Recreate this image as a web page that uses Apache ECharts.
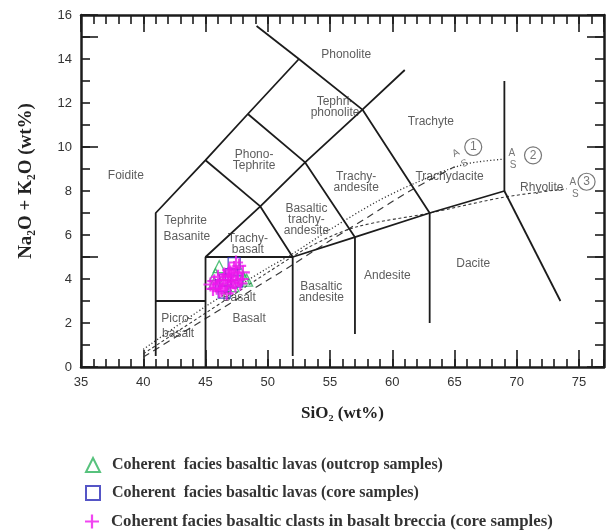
<!DOCTYPE html>
<html>
<head>
<meta charset="utf-8">
<script src="https://cdn.jsdelivr.net/npm/echarts@6/dist/echarts.min.js"></script>
<style>
  html, body { margin: 0; padding: 0; background: #fff; }
  #chart { width: 610px; height: 531px; }
</style>
</head>
<body>
<div id="chart"></div>
<script>
// ---- TAS classification field boundaries (SiO2, Na2O+K2O) ----
const fieldBoundaries = [
  [[41, 0.5], [41, 7], [45, 9.4], [48.4, 11.5], [52.5, 14], [57.6, 11.7], [61, 13.5]],
  [[49.1, 15.5], [52.5, 14]],
  [[41, 3], [45, 3]],
  [[45, 0], [45, 5], [52, 5], [52, 0.5]],
  [[45, 5], [49.4, 7.3], [52, 5]],
  [[45, 9.4], [49.4, 7.3]],
  [[48.4, 11.5], [53, 9.3], [57, 5.9], [57, 1.5]],
  [[49.4, 7.3], [53, 9.3], [57.6, 11.7]],
  [[52, 5], [57, 5.9], [63, 7], [69, 8], [69, 13]],
  [[57.6, 11.7], [63, 7], [63, 2]],
  [[69, 8], [73.5, 3]]
];

// ---- alkaline / subalkaline dividing lines ----
const divide1 = [[40, 0.45], [45, 2.2], [50, 3.95], [52, 4.65], [55, 5.75], [58, 6.8], [61.4, 8.0], [65, 9.1]];
const divide2 = [[40, 0.8], [45, 2.75], [50, 4.5], [52, 5.15], [55, 6.25], [58.7, 7.5], [61.8, 8.35], [65.7, 9.2], [69, 9.45]];
const divide3 = [[40, 0.6], [45, 2.45], [50, 4.3], [53.3, 5.45], [57, 6.35], [63, 7.0], [69, 7.72], [74, 8.1]];

// A / S markers and circled numbers at the end of each divide
const asLabels = [
  ['A', 65.1, 9.72, 28], ['S', 65.8, 9.25, 28],
  ['A', 69.6, 9.7, 0], ['S', 69.7, 9.15, 0],
  ['A', 74.5, 8.38, 0], ['S', 74.7, 7.85, 0]
];
const circleNums = [['1', 66.5, 10.0], ['2', 71.3, 9.62], ['3', 75.6, 8.42]];

// ---- rock field names ----
const fieldNames = [
  'Foidite', 'Phonolite', 'Tephri-\nphonolite', 'Phono-\nTephrite', 'Trachyte',
  'Trachy-\nandesite', 'Trachydacite', 'Basaltic\ntrachy-\nandesite', 'Tephrite', 'Basanite',
  'Trachy-\nbasalt', 'Picro-', 'basalt', 'Basalt', 'Basalt', 'Basaltic\nandesite',
  'Andesite', 'Dacite', 'Rhyolite'
];
const fieldNamePos = [
  [38.6, 8.68], [56.3, 14.18], [55.4, 11.8], [48.9, 9.4], [63.1, 11.15],
  [57.1, 8.39], [64.6, 8.65], [53.1, 6.7], [43.4, 6.65], [43.5, 5.92],
  [48.4, 5.56], [42.7, 2.21], [42.8, 1.5], [47.7, 3.17], [48.5, 2.21], [54.3, 3.41],
  [59.6, 4.15], [66.5, 4.68], [72.0, 8.17]
];

// ---- samples (SiO2, Na2O+K2O) ----
const outcropLavas = [
  [46.1, 4.56], [45.8, 4.2], [47.7, 4.4], [48.05, 4.05], [48.3, 3.95],
  [46.6, 4.0], [47.2, 3.7], [45.7, 3.8]
];
const coreLavas = [
  [47.3, 4.7], [46.6, 3.95], [46.5, 3.4], [47.1, 4.2], [46.3, 3.7], [47.5, 3.9]
];
const brecciaClasts = [
  [45.4, 3.75], [45.7, 3.9], [45.9, 3.6], [46.0, 4.1], [46.2, 3.8], [46.3, 3.5],
  [46.5, 4.2], [46.6, 3.7], [46.8, 3.95], [46.9, 4.4], [47.0, 3.6], [47.1, 4.1],
  [47.2, 3.85], [47.3, 4.5], [47.4, 3.7], [47.5, 4.25], [47.6, 3.95], [47.7, 4.6],
  [47.8, 3.8], [48.0, 4.3], [46.4, 3.95], [46.1, 3.45], [47.0, 4.3], [47.9, 4.0],
  [46.7, 3.35], [45.6, 3.55], [47.45, 4.75], [46.85, 4.15]
];

const seriesNames = [
  'Coherent  facies basaltic lavas (outcrop samples)',
  'Coherent  facies basaltic lavas (core samples)',
  'Coherent facies basaltic clasts in basalt breccia (core samples)'
];

const ink = '#1c1c1c';
const frameLine = { color: ink, width: 2.5 };
const tickLine = { color: ink, width: 1.6 };
const plusPath = 'path://M4.2,0H5.8V4.2H10V5.8H5.8V10H4.2V5.8H0V4.2H4.2Z';

function xAx(pos, step, tickLen, withLabels) {
  return {
    type: 'value', position: pos, min: 35, max: 77, interval: step,
    axisLine: { show: step === 5, onZero: false, lineStyle: frameLine },
    axisTick: { show: true, inside: true, length: tickLen, lineStyle: tickLine },
    axisLabel: withLabels ? {
      show: true, margin: 9, fontSize: 13, color: '#333', fontFamily: 'Liberation Sans',
      formatter: v => (v % 5 === 0 ? String(v) : '')
    } : { show: false },
    splitLine: { show: false }
  };
}
function yAx(pos, step, tickLen, opts) {
  return Object.assign({
    type: 'value', position: pos, min: 0, max: 16, interval: step,
    axisLine: { show: false, onZero: false },
    axisTick: { show: tickLen > 0, inside: true, length: tickLen, lineStyle: tickLine },
    axisLabel: { show: false },
    splitLine: { show: false }
  }, opts || {});
}

const titleFont = { fontFamily: 'Liberation Serif', fontWeight: 'bold', color: '#222' };

const xAxes = [
  Object.assign(xAx('bottom', 5, 17, true), {
    name: 'SiO₂ (wt%)', nameLocation: 'middle', nameGap: 38,
    nameTextStyle: Object.assign({ fontSize: 17 }, titleFont)
  }),
  xAx('bottom', 1, 8, false),
  xAx('top', 5, 17, false),
  xAx('top', 1, 9, false)
];
const yAxes = [
  yAx('left', 2, 0, {
    axisLine: { show: true, onZero: false, lineStyle: frameLine },
    axisLabel: { show: true, margin: 9, fontSize: 13, color: '#333', fontFamily: 'Liberation Sans' },
    name: 'Na₂O + K₂O (wt%)', nameLocation: 'middle', nameGap: 45, nameRotate: 90,
    nameTextStyle: Object.assign({ fontSize: 19, padding: [0, 0, 0, 20] }, titleFont)
  }),
  yAx('left', 5, 17),
  yAx('left', 1, 9),
  yAx('right', 5, 17, { axisLine: { show: true, onZero: false, lineStyle: frameLine } }),
  yAx('right', 1, 9)
];

const series = [];
fieldBoundaries.forEach(seg => {
  series.push({
    type: 'line', data: seg, symbol: 'none', silent: true, z: 3,
    lineStyle: { color: ink, width: 1.8 }
  });
});
[[divide1, [7, 5], 1.2], [divide2, [1.2, 2.2], 1.3], [divide3, [3, 2.5], 1.1]].forEach(d => {
  series.push({
    type: 'line', data: d[0], symbol: 'none', silent: true, smooth: 0.3, z: 2,
    lineStyle: { color: '#3a3a3a', width: d[2], type: d[1] }
  });
});

// rock field names
series.push({
  type: 'scatter', silent: true, symbolSize: 0, z: 4,
  data: fieldNamePos.map((p, i) => ({ value: p, name: fieldNames[i] })),
  label: {
    show: true, position: 'inside', formatter: p => p.name,
    fontFamily: 'Liberation Sans', fontSize: 12, lineHeight: 11, color: '#333'
  }
});
// A / S markers
series.push({
  type: 'scatter', silent: true, symbolSize: 0, z: 4,
  data: asLabels.map(a => ({ value: [a[1], a[2]], name: a[0], label: { rotate: a[3] } })),
  label: {
    show: true, position: 'inside', formatter: p => p.name,
    fontFamily: 'Liberation Sans', fontSize: 10, color: '#555'
  }
});
// circled numbers
series.push({
  type: 'scatter', silent: true, symbol: 'circle', symbolSize: 17, z: 4,
  data: circleNums.map(c => ({ value: [c[1], c[2]], name: c[0] })),
  itemStyle: { color: '#fff', borderColor: '#555', borderWidth: 1.2 },
  label: {
    show: true, position: 'inside', formatter: p => p.name,
    fontFamily: 'Liberation Sans', fontSize: 12, color: '#555'
  }
});

// samples
series.push({
  name: seriesNames[0], type: 'scatter', data: outcropLavas, symbol: 'triangle', symbolSize: 12, z: 6,
  itemStyle: { color: 'rgba(0,0,0,0)', borderColor: '#2db35d', borderWidth: 1.3 }
});
series.push({
  name: seriesNames[1], type: 'scatter', data: coreLavas, symbol: 'rect', symbolSize: 12, z: 7,
  itemStyle: { color: 'rgba(0,0,0,0)', borderColor: '#2a2ab8', borderWidth: 1.3 }
});
series.push({
  name: seriesNames[2], type: 'scatter', data: brecciaClasts, symbol: plusPath, symbolSize: 14, z: 8,
  itemStyle: { color: '#ee16ee' }
});

// one legend row per sample group
const legendRowTops = [457, 485, 513];
const legendFontSizes = [16, 16, 16.8];
const legends = seriesNames.map((nm, i) => ({
  data: [nm], orient: 'horizontal', left: 85, top: legendRowTops[i], padding: 0,
  itemWidth: 14, itemHeight: 14, selectedMode: false,
  textStyle: {
    fontFamily: 'Liberation Serif', fontWeight: 'bold', fontSize: legendFontSizes[i], color: '#333',
    padding: [0, 0, 0, 7]
  }
}));

const chart = echarts.init(document.getElementById('chart'), null, { renderer: 'canvas' });
chart.setOption({
  animation: false,
  backgroundColor: '#fff',
  grid: { left: 81, right: 6, top: 15, bottom: 164, containLabel: false, outerBoundsMode: 'none' },
  xAxis: xAxes,
  yAxis: yAxes,
  legend: legends,
  series: series
});
</script>
</body>
</html>
